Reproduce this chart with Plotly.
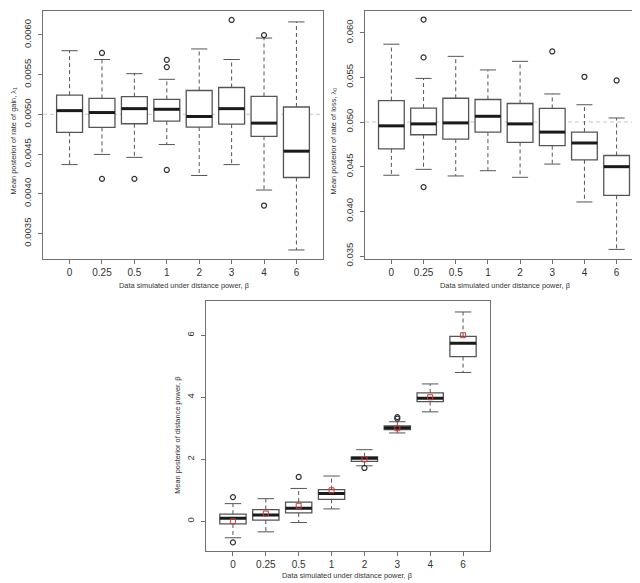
import plotly.graph_objects as go

# ---------------- data ----------------
beta_labels = ["0", "0.25", "0.5", "1", "2", "3", "4", "6"]
beta_true = [0, 0.25, 0.5, 1, 2, 3, 4, 6]
true_gain = 0.005
true_loss = 0.05

gain_low = [0.004367, 0.004495, 0.004458, 0.004619, 0.004230, 0.004367, 0.004047, 0.003293]
gain_q1 = [0.004773, 0.004835, 0.004881, 0.004914, 0.004839, 0.004876, 0.004723, 0.004205]
gain_med = [0.005046, 0.005022, 0.005071, 0.005063, 0.004972, 0.005071, 0.004889, 0.004536]
gain_q3 = [0.005241, 0.005200, 0.005221, 0.005187, 0.005299, 0.005337, 0.005225, 0.005092]
gain_high = [0.005800, 0.005689, 0.005511, 0.005440, 0.005822, 0.005689, 0.005959, 0.006162]
gain_out = [[], [0.005772, 0.004188], [0.004188], [0.005685, 0.005594, 0.004300],
            [], [0.006187], [0.005996, 0.003852], []]

loss_low = [0.04404, 0.04470, 0.04396, 0.04455, 0.04381, 0.04529, 0.04105, 0.03574]
loss_q1 = [0.04699, 0.04857, 0.04809, 0.04887, 0.04772, 0.04735, 0.04577, 0.04179]
loss_med = [0.04957, 0.04979, 0.04990, 0.05064, 0.04979, 0.04887, 0.04765, 0.04500]
loss_q3 = [0.05240, 0.05156, 0.05266, 0.05252, 0.05207, 0.05152, 0.04887, 0.04625]
loss_high = [0.05871, 0.05488, 0.05735, 0.05583, 0.05679, 0.05314, 0.05193, 0.05045]
loss_out = [[], [0.06147, 0.05723, 0.04271], [], [], [], [0.05790], [0.05506], [0.05465]]

pow_low = [-0.53, -0.34, -0.04, 0.40, 1.79, 2.85, 3.53, 4.80]
pow_q1 = [-0.085, 0.04, 0.27, 0.71, 1.93, 2.96, 3.86, 5.31]
pow_med = [0.095, 0.20, 0.42, 0.90, 2.03, 3.02, 3.97, 5.74]
pow_q3 = [0.23, 0.38, 0.62, 1.02, 2.08, 3.08, 4.14, 5.96]
pow_high = [0.57, 0.73, 1.06, 1.46, 2.31, 3.21, 4.43, 6.75]
pow_out = [[0.78, -0.68], [], [1.43], [], [1.72], [3.36, 3.31], [], []]

gain_ticks = [0.0035, 0.0040, 0.0045, 0.0050, 0.0055, 0.0060]
loss_ticks = [0.035, 0.040, 0.045, 0.050, 0.055, 0.060]
pow_ticks = [0, 2, 4, 6]

# ---------------- style ----------------
FONT = "Liberation Sans, Arial, sans-serif"
BOXC = "#555555"
FRAME = "#707070"
TXT = "#333333"
HALF_BOX = 0.4
HALF_CAP = 0.25

idx = list(range(len(beta_labels)))
fig = go.Figure()


def add_panel(xa, ya, low, q1, med, q3, high, outs):
    # whiskers (dashed)
    wx, wy = [], []
    for i in idx:
        wx += [i, i, None, i, i, None]
        wy += [q3[i], high[i], None, q1[i], low[i], None]
    fig.add_trace(go.Scatter(x=wx, y=wy, mode="lines", xaxis=xa, yaxis=ya,
                             line=dict(color=BOXC, width=1, dash="4px,3px"),
                             showlegend=False, hoverinfo="skip"))
    # staples
    cx, cy = [], []
    for i in idx:
        cx += [i - HALF_CAP, i + HALF_CAP, None, i - HALF_CAP, i + HALF_CAP, None]
        cy += [high[i], high[i], None, low[i], low[i], None]
    fig.add_trace(go.Scatter(x=cx, y=cy, mode="lines", xaxis=xa, yaxis=ya,
                             line=dict(color=BOXC, width=1),
                             showlegend=False, hoverinfo="skip"))
    # boxes
    fig.add_trace(go.Box(x=idx, q1=q1, median=med, q3=q3, lowerfence=q1, upperfence=q3,
                         width=2 * HALF_BOX, xaxis=xa, yaxis=ya, boxpoints=False,
                         fillcolor="white", line=dict(color=BOXC, width=1.3),
                         whiskerwidth=0, showlegend=False, hoverinfo="skip"))
    # medians (thick)
    mx, my = [], []
    for i in idx:
        mx += [i - HALF_BOX, i + HALF_BOX, None]
        my += [med[i], med[i], None]
    fig.add_trace(go.Scatter(x=mx, y=my, mode="lines", xaxis=xa, yaxis=ya,
                             line=dict(color="#1a1a1a", width=3),
                             showlegend=False, hoverinfo="skip"))
    # outliers
    ox, oy = [], []
    for i in idx:
        for v in outs[i]:
            ox.append(i)
            oy.append(v)
    fig.add_trace(go.Scatter(x=ox, y=oy, mode="markers", xaxis=xa, yaxis=ya,
                             marker=dict(symbol="circle-open", size=5,
                                         color="#333333", line=dict(width=1.2)),
                             showlegend=False, hoverinfo="skip"))


add_panel("x", "y", gain_low, gain_q1, gain_med, gain_q3, gain_high, gain_out)
add_panel("x2", "y2", loss_low, loss_q1, loss_med, loss_q3, loss_high, loss_out)
add_panel("x3", "y3", pow_low, pow_q1, pow_med, pow_q3, pow_high, pow_out)

# true beta values as red squares
fig.add_trace(go.Scatter(x=idx, y=beta_true, mode="markers", xaxis="x3", yaxis="y3",
                         marker=dict(symbol="square-open", size=5, color="#d23a3a",
                                     line=dict(width=1)),
                         showlegend=False, hoverinfo="skip"))

# reference dashed lines at the true rates
for xa, ya, val in [("x", "y", true_gain), ("x2", "y2", true_loss)]:
    fig.add_shape(type="line", xref=f"{xa} domain", yref=ya, x0=0, x1=1, y0=val, y1=val,
                  line=dict(color="#c8c8c8", width=1, dash="4px,3px"), layer="below")

W, H = 640, 583


def px_dom_x(a, b):
    return [a / W, b / W]


def px_dom_y(top, bottom):
    return [(H - bottom) / H, (H - top) / H]


common_x = dict(range=[-0.82, 7.82], tickmode="array", tickvals=idx, ticktext=beta_labels,
                showline=True, linecolor=FRAME, linewidth=1, mirror=True,
                ticks="outside", ticklen=4, tickcolor=FRAME, showgrid=False, zeroline=False,
                tickfont=dict(family=FONT, size=10, color=TXT), ticklabelstandoff=0)
common_y = dict(showline=True, linecolor=FRAME, linewidth=1, mirror=True,
                ticks="outside", ticklen=4, tickcolor=FRAME, showgrid=False, zeroline=False,
                tickangle=-90, tickfont=dict(family=FONT, size=9.5, color=TXT),
                ticklabelstandoff=3, tickmode="array")

fig.update_layout(
    width=W, height=H, margin=dict(l=0, r=0, t=0, b=0),
    paper_bgcolor="white", plot_bgcolor="white",
    xaxis=dict(common_x, domain=px_dom_x(35, 315), anchor="y"),
    yaxis=dict(common_y, domain=px_dom_y(3, 254), anchor="x", range=[0.00318, 0.0063],
               tickvals=gain_ticks, ticktext=[f"{v:.4f}" for v in gain_ticks]),
    xaxis2=dict(common_x, domain=px_dom_x(357, 635), anchor="y2"),
    yaxis2=dict(common_y, domain=px_dom_y(3, 254), anchor="x2", range=[0.03467, 0.06243],
                tickvals=loss_ticks, ticktext=[f"{v:.3f}" for v in loss_ticks]),
    xaxis3=dict(common_x, domain=px_dom_x(198, 482), anchor="y3"),
    yaxis3=dict(common_y, domain=px_dom_y(297, 550), anchor="x3", range=[-0.97, 7.09],
                tickvals=pow_ticks, ticktext=[str(v) for v in pow_ticks]),
    boxgap=0,
)

titles = [
    ("Data simulated under distance power, β", 176, 281, 0),
    ("Data simulated under distance power, β", 497, 281, 0),
    ("Data simulated under distance power, β", 339, 574, 0),
    ("Mean posterior of rate of gain, λ<sub>1</sub>", 6, 135, -90),
    ("Mean posterior of rate of loss, λ<sub>0</sub>", 326, 135, -90),
    ("Mean posterior of distance power, β", 170, 433, -90),
]
for text, xp, yp, ang in titles:
    fig.add_annotation(text=text, x=xp / W, y=(H - yp) / H, xref="paper", yref="paper",
                       showarrow=False, textangle=ang, xanchor="center", yanchor="middle",
                       font=dict(family=FONT, size=7.4, color=TXT))

fig.write_html("out.html")
